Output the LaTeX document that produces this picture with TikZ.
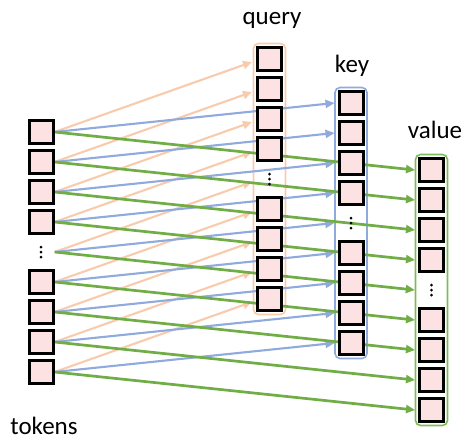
\documentclass[tikz,border=0pt]{standalone}
\usepackage{fontspec}
\setmainfont{Carlito}
\usetikzlibrary{arrows.meta,fit}
\definecolor{qcol}{HTML}{F8CBAD}
\definecolor{kcol}{HTML}{8FAADC}
\definecolor{vcol}{HTML}{70AD47}
\definecolor{vbox}{HTML}{7FBA58}
\definecolor{cellfill}{HTML}{FCE2E2}
\pgfdeclarelayer{bg}
\pgfsetlayers{bg,main}
\begin{document}
\begin{tikzpicture}[x=1pt,y=-1pt,
  cell/.style={draw=black,line width=3pt,fill=cellfill,minimum width=24pt,minimum height=23pt,inner sep=0pt},
  gap/.style={minimum width=27pt,minimum height=26pt,inner sep=0pt},
  link/.style={line width=#1,-{Triangle[length=9pt,width=8pt]}},
  link/.default=2.1pt,
  frame/.style={draw=#1,line width=1.6pt,rounded corners=5pt,inner xsep=2.5pt,inner ysep=2.5pt},
  label/.style={anchor=base,font=\fontsize{25}{30}\selectfont}]
\useasboundingbox (0,0) rectangle (463,440);

% four columns of cells; slot 5 of each holds a vertical ellipsis
\foreach \i in {1,...,9}{
  \pgfmathsetmacro\ty{132+30*(\i-1)}
  \pgfmathsetmacro\qy{59+30*(\i-1)}
  \pgfmathsetmacro\ky{103+30*(\i-1)}
  \pgfmathsetmacro\vy{170+30*(\i-1)}
  \ifnum\i=5
    \node[gap] (t\i) at (41,\ty) {};
    \node[gap] (q\i) at (269.5,\qy) {};
    \node[gap] (k\i) at (351,\ky) {};
    \node[gap] (v\i) at (431.5,\vy) {};
  \else
    \node[cell] (t\i) at (41,\ty) {};
    \node[cell] (q\i) at (269.5,\qy) {};
    \node[cell] (k\i) at (351,\ky) {};
    \node[cell] (v\i) at (431.5,\vy) {};
  \fi
}
\foreach \c in {t,q,k,v}{
  \foreach \d in {-5,0,5}
    \fill (\c5.center) ++(0,\d) circle (1.5pt);
}

\begin{pgfonlayer}{bg}
  % columns' outlines
  \node[frame=qcol,fit=(q1)(q9)] (qframe) {};
  \node[frame=kcol,fit=(k1)(k9)] (kframe) {};
  \node[frame=vbox,fit=(v1)(v9)] (vframe) {};
  % projections of every token
  \foreach \i in {1,...,9}
    \draw[link,qcol] (t\i.east) -- ([xshift=-4pt,yshift=-3pt]q\i.west);
  \foreach \i in {1,...,9}
    \draw[link,kcol] (t\i.east) -- ([xshift=-3pt]k\i.west);
  \foreach \i in {1,...,9}
    \draw[link=2.7pt,vcol] (t\i.east) -- ([xshift=-3pt]v\i.west);
\end{pgfonlayer}

\node[label] (qlabel) at (272,24) {query};
\node[label] (klabel) at (352,72) {key};
\node[label] (vlabel) at (435,138) {value};
\node[label] (tlabel) at (44,434) {tokens};
\end{tikzpicture}
\end{document}
